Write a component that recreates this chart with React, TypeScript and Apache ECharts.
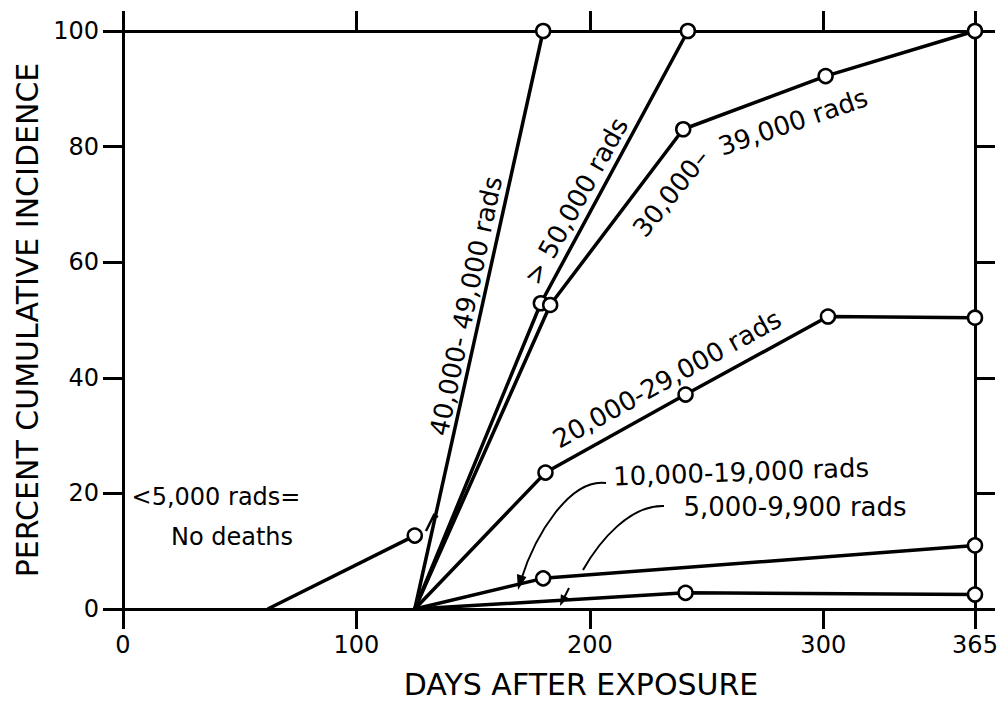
import React, { useEffect, useRef } from "react";
import * as echarts from "echarts";

const FONT = "'DejaVu Sans', sans-serif";

// tick values
const xTickValues = [0, 100, 200, 300, 365];
const yTickValues = [0, 20, 40, 60, 80, 100];

// series names (dose groups)
const seriesNames = [
  "<5,000 rads",
  "40,000-49,000 rads",
  ">50,000 rads",
  "30,000-39,000 rads",
  "20,000-29,000 rads",
  "10,000-19,000 rads",
  "5,000-9,900 rads",
];

// days after exposure / percent cumulative incidence, per group
const lowDays = [62, 125];
const lowValues = [0, 12.7];

const dose40kDays = [125, 180];
const dose40kValues = [0, 100];

const dose50kDays = [125, 179, 242];
const dose50kValues = [0, 52.9, 100];

const dose30kDays = [125, 183, 240, 301, 365];
const dose30kValues = [0, 52.6, 83, 92.2, 100];

const dose20kDays = [125, 181, 241, 302, 365];
const dose20kValues = [0, 23.6, 37.1, 50.6, 50.4];

const dose10kDays = [125, 180, 365];
const dose10kValues = [0, 5.3, 11];

const dose5kDays = [125, 241, 365];
const dose5kValues = [0, 2.8, 2.5];

const allDays = [lowDays, dose40kDays, dose50kDays, dose30kDays, dose20kDays, dose10kDays, dose5kDays];
const allValues = [lowValues, dose40kValues, dose50kValues, dose30kValues, dose20kValues, dose10kValues, dose5kValues];

// annotation texts
const noteLow1 = "<5,000 rads=";
const noteLow2 = "No deaths";
const label40k = "40,000- 49,000 rads";
const label50k = "> 50,000 rads";
const label30kA = "30,000\u2013";
const label30kB = "39,000 rads";
const label20k = "20,000-29,000 rads";
const label10k = "10,000-19,000 rads";
const label5k = "5,000-9,900 rads";

function makeSeries(name: string, days: number[], values: number[]) {
  return {
    name,
    type: "line",
    data: days.map((d, i) => ({ value: [d, values[i]], symbol: i === 0 ? "none" : "circle" })),
    symbol: "circle",
    symbolSize: 14,
    showAllSymbol: true,
    lineStyle: { color: "#000", width: 3.5 },
    itemStyle: { color: "#fff", borderColor: "#000", borderWidth: 2.5 },
    emphasis: { disabled: true },
    z: 3,
  };
}

function txt(text: string, x: number, y: number, deg: number, size: number) {
  return {
    type: "text",
    x,
    y,
    rotation: (deg * Math.PI) / 180,
    silent: true,
    z: 10,
    style: {
      text,
      fill: "#000",
      fontSize: size,
      fontFamily: FONT,
      textAlign: "center",
      textVerticalAlign: "middle",
      align: "center",
      verticalAlign: "middle",
    },
  };
}

export default function App() {
  const ref = useRef<HTMLDivElement>(null);

  useEffect(() => {
    if (!ref.current) return;
    const chart = echarts.init(ref.current, null, { renderer: "svg" });

    const axisLine = { show: true, onZero: false, lineStyle: { color: "#000", width: 3 } };
    const tickStyle = { color: "#000", width: 3 };

    const option: any = {
      animation: false,
      backgroundColor: "#fff",
      grid: { left: 123, right: 27, top: 31, bottom: 91, containLabel: false },
      xAxis: [
        {
          type: "value",
          min: 0,
          max: 365,
          position: "bottom",
          axisLine,
          axisTick: { show: true, inside: false, length: 20, customValues: xTickValues, lineStyle: tickStyle },
          axisLabel: {
            customValues: xTickValues,
            fontSize: 24,
            color: "#000",
            fontFamily: FONT,
            margin: 24,
          },
          splitLine: { show: false },
          name: "DAYS AFTER EXPOSURE",
          nameLocation: "middle",
          nameGap: 60,
          nameTextStyle: { fontSize: 30, color: "#000", fontFamily: FONT, padding: [0, 0, 0, 64] },
        },
        {
          type: "value",
          min: 0,
          max: 365,
          position: "top",
          axisLine,
          axisTick: { show: true, inside: false, length: 20, customValues: xTickValues, lineStyle: tickStyle },
          axisLabel: { show: false },
          splitLine: { show: false },
        },
      ],
      yAxis: [
        {
          type: "value",
          min: 0,
          max: 100,
          interval: 20,
          position: "left",
          axisLine,
          axisTick: { show: true, inside: false, length: 20, lineStyle: tickStyle },
          axisLabel: {
            customValues: yTickValues,
            fontSize: 24,
            color: "#000",
            fontFamily: FONT,
            margin: 24,
          },
          splitLine: { show: false },
          name: "PERCENT CUMULATIVE INCIDENCE",
          nameLocation: "middle",
          nameGap: 68,
          nameTextStyle: { fontSize: 30, color: "#000", fontFamily: FONT },
        },
        {
          type: "value",
          min: 0,
          max: 100,
          interval: 20,
          position: "right",
          axisLine,
          axisTick: { show: true, inside: false, length: 20, lineStyle: tickStyle },
          axisLabel: { show: false },
          splitLine: { show: false },
        },
      ],
      series: seriesNames.map((n, i) => makeSeries(n, allDays[i], allValues[i])),
      graphic: [
        txt(noteLow1, 216, 497, 0, 24),
        txt(noteLow2, 232, 537, 0, 24),
        txt(label40k, 466, 306, 78, 26),
        txt(label50k, 576, 201, 61, 26),
        txt(label30kA, 671, 193, 51, 26),
        txt(label30kB, 793, 122, 19, 26),
        txt(label20k, 667, 379, 29, 26),
        txt(label10k, 741, 472, 2, 26),
        txt(label5k, 795, 507, 0, 26),
        // leader from 10,000-19,000 label
        {
          type: "bezierCurve",
          silent: true,
          shape: { x1: 606, y1: 483, x2: 521, y2: 580, cpx1: 570, cpy1: 478, cpx2: 535, cpy2: 535 },
          style: { stroke: "#000", lineWidth: 2, fill: null },
        },
        {
          type: "polygon",
          silent: true,
          shape: { points: [[518, 590], [526.4, 577.1], [516.9, 574.1]] },
          style: { fill: "#000" },
        },
        // leader from 5,000-9,900 label
        {
          type: "bezierCurve",
          silent: true,
          shape: { x1: 664, y1: 506, x2: 583, y2: 570, cpx1: 630, cpy1: 505, cpx2: 600, cpy2: 540 },
          style: { stroke: "#000", lineWidth: 2, fill: null },
        },
        {
          type: "line",
          silent: true,
          shape: { x1: 569, y1: 588, x2: 563, y2: 600 },
          style: { stroke: "#000", lineWidth: 2 },
        },
        {
          type: "polygon",
          silent: true,
          shape: { points: [[560, 606], [568.1, 597.8], [560.9, 594.2]] },
          style: { fill: "#000" },
        },
        // small leader near the <5,000 point
        {
          type: "polyline",
          silent: true,
          shape: { points: [[426, 531], [434, 515], [438, 517]] },
          style: { stroke: "#000", lineWidth: 2.5, fill: null },
        },
      ],
    };

    chart.setOption(option);
    return () => chart.dispose();
  }, []);

  return (
    <div
      ref={ref}
      style={{ position: "fixed", left: 0, top: 0, width: 1002, height: 704, background: "#fff" }}
    />
  );
}
